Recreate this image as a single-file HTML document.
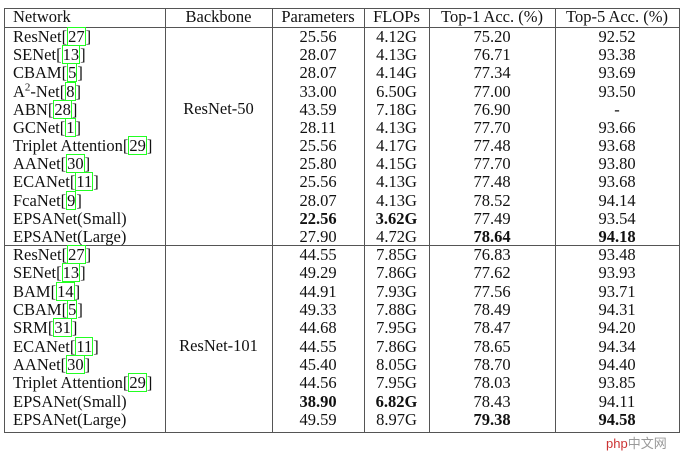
<!DOCTYPE html><html><head><style>
body{margin:0;width:684px;height:449px;background:#fff;position:relative;overflow:hidden;font-family:"Liberation Serif",serif;font-size:16.5px;color:#111}
.r{position:absolute;height:18px;line-height:18px;white-space:nowrap}
.c{position:absolute;text-align:center;height:18px;line-height:18px;white-space:nowrap}
.b{font-weight:bold}
.g{outline:1px solid #2f2;outline-offset:-1px;padding:0 1px}
.l{position:absolute;background:#555}
</style></head><body>
<div class="l" style="left:4px;top:8px;width:676px;height:1px"></div>
<div class="l" style="left:4px;top:27px;width:676px;height:1px"></div>
<div class="l" style="left:4px;top:245px;width:676px;height:1px"></div>
<div class="l" style="left:4px;top:432px;width:676px;height:1px"></div>
<div class="l" style="left:4px;top:8px;width:1px;height:425px"></div>
<div class="l" style="left:165px;top:8px;width:1px;height:425px"></div>
<div class="l" style="left:272px;top:8px;width:1px;height:425px"></div>
<div class="l" style="left:364px;top:8px;width:1px;height:425px"></div>
<div class="l" style="left:429px;top:8px;width:1px;height:425px"></div>
<div class="l" style="left:555px;top:8px;width:1px;height:425px"></div>
<div class="l" style="left:679px;top:8px;width:1px;height:425px"></div>
<div id="t"></div>
<div style="position:absolute;left:606px;top:433px;font-family:'Liberation Sans','Noto Sans CJK SC',sans-serif;font-size:13px;color:#c33">php<span style="color:#999">中文网</span></div>
<script>
var cols=[[165,272],[272,364],[364,429],[429,555],[555,679]];
var h='';
function row(y,name,vals,bold){
 h+='<div class="r" style="left:13px;top:'+(y-9)+'px">'+name+'</div>';
 vals.forEach(function(v,i){var c=cols[i+1];h+='<div class="c'+(bold&&bold[i]?' b':'')+'" style="left:'+c[0]+'px;width:'+(c[1]-c[0])+'px;top:'+(y-9)+'px">'+v+'</div>';});
}
function cite(n,c){return n+'[<span class="g">'+c+'</span>]';}
h+='<div class="r" style="left:13px;top:8px">Network</div>';
var hd=['Backbone','Parameters','FLOPs','Top-1 Acc. (%)','Top-5 Acc. (%)'];
hd.forEach(function(v,i){var c=cols[i];h+='<div class="c" style="left:'+c[0]+'px;width:'+(c[1]-c[0])+'px;top:8px">'+v+'</div>';});
var g1=[[cite('ResNet',27),'25.56','4.12G','75.20','92.52'],[cite('SENet',13),'28.07','4.13G','76.71','93.38'],[cite('CBAM',5),'28.07','4.14G','77.34','93.69'],[cite('A<sup style="font-size:11px;line-height:0">2</sup>-Net',8),'33.00','6.50G','77.00','93.50'],[cite('ABN',28),'43.59','7.18G','76.90','-'],[cite('GCNet',1),'28.11','4.13G','77.70','93.66'],[cite('Triplet Attention',29),'25.56','4.17G','77.48','93.68'],[cite('AANet',30),'25.80','4.15G','77.70','93.80'],[cite('ECANet',11),'25.56','4.13G','77.48','93.68'],[cite('FcaNet',9),'28.07','4.13G','78.52','94.14'],['EPSANet(Small)','22.56','3.62G','77.49','93.54',[1,1,0,0]],['EPSANet(Large)','27.90','4.72G','78.64','94.18',[0,0,1,1]]];
g1.forEach(function(r,i){row(37+i*18.18,r[0],r.slice(1,5),r[5]);});
var g2=[[cite('ResNet',27),'44.55','7.85G','76.83','93.48'],[cite('SENet',13),'49.29','7.86G','77.62','93.93'],[cite('BAM',14),'44.91','7.93G','77.56','93.71'],[cite('CBAM',5),'49.33','7.88G','78.49','94.31'],[cite('SRM',31),'44.68','7.95G','78.47','94.20'],[cite('ECANet',11),'44.55','7.86G','78.65','94.34'],[cite('AANet',30),'45.40','8.05G','78.70','94.40'],[cite('Triplet Attention',29),'44.56','7.95G','78.03','93.85'],['EPSANet(Small)','38.90','6.82G','78.43','94.11',[1,1,0,0]],['EPSANet(Large)','49.59','8.97G','79.38','94.58',[0,0,1,1]]];
g2.forEach(function(r,i){row(255+i*18.33,r[0],r.slice(1,5),r[5]);});
h+='<div class="c" style="left:165px;width:107px;top:100px">ResNet-50</div>';
h+='<div class="c" style="left:165px;width:107px;top:337px">ResNet-101</div>';
document.getElementById('t').innerHTML=h;
</script>
</body></html>
